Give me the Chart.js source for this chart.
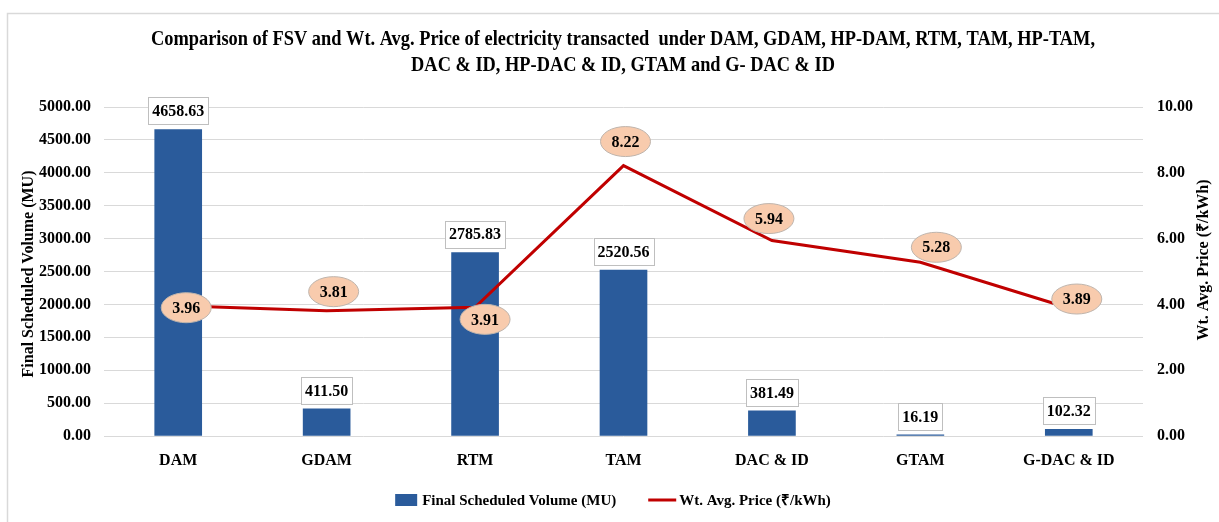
<!DOCTYPE html>
<html>
<head>
<meta charset="utf-8">
<script src="https://cdn.jsdelivr.net/npm/chart.js@4.4.1/dist/chart.umd.min.js"></script>
<style>
html,body{margin:0;padding:0;background:#fff;}
#wrap{position:relative;width:1219px;height:522px;}
</style>
</head>
<body>
<div id="wrap"><canvas id="c" width="1219" height="522"></canvas></div>
<script>
const categories = ["DAM", "GDAM", "RTM", "TAM", "DAC & ID", "GTAM", "G-DAC & ID"];
const volumeMU = [4658.63, 411.50, 2785.83, 2520.56, 381.49, 16.19, 102.32];
const priceKWh = [3.96, 3.81, 3.91, 8.22, 5.94, 5.28, 3.89];
const leftTicks = [0, 500, 1000, 1500, 2000, 2500, 3000, 3500, 4000, 4500, 5000];
const rightTicks = [0, 2, 4, 6, 8, 10];
const titleLines = ['Comparison of FSV and Wt. Avg. Price of electricity transacted  under DAM, GDAM, HP-DAM, RTM, TAM, HP-TAM,',
                    'DAC & ID, HP-DAC & ID, GTAM and G- DAC & ID'];
const seriesNames = ['Final Scheduled Volume (MU)', 'Wt. Avg. Price (\u20B9/kWh)'];

const FONT = "'Liberation Serif', 'Times New Roman', serif";
const BLUE = "#2A5B9B";
const RED = "#C00000";

// label offsets (style only) for the price bubbles, in px relative to each point
const bubbleOffsets = [[8, 2], [7, -19], [10, 12], [2, -24], [-3, -22], [16, -15], [8, -9]];

const decor = {
  id: 'decor',
  beforeDraw(chart) {
    const ctx = chart.ctx;
    ctx.save();
    ctx.fillStyle = '#fff';
    ctx.fillRect(0, 0, chart.width, chart.height);
    ctx.strokeStyle = '#d9d9d9';
    ctx.lineWidth = 1.5;
    ctx.beginPath();
    ctx.moveTo(7.5, chart.height + 5);
    ctx.lineTo(7.5, 13.5);
    ctx.lineTo(chart.width + 5, 13.5);
    ctx.stroke();
    ctx.restore();
  },
  afterDraw(chart) {
    const ctx = chart.ctx;
    ctx.save();
    ctx.fillStyle = '#000';
    ctx.textAlign = 'center';
    ctx.textBaseline = 'middle';

    // title (condensed serif)
    ctx.font = "bold 21px " + FONT;
    titleLines.forEach((t, i) => {
      ctx.setTransform(0.875, 0, 0, 1, 623, 40 + i * 26);
      ctx.fillText(t, 0, 0);
    });
    ctx.setTransform(1, 0, 0, 1, 0, 0);

    // axis titles
    ctx.font = "bold 16px " + FONT;
    ctx.translate(29, 274);
    ctx.rotate(-Math.PI / 2);
    ctx.fillText(seriesNames[0], 0, 0);
    ctx.setTransform(1, 0, 0, 1, 0, 0);
    ctx.translate(1204, 260);
    ctx.rotate(-Math.PI / 2);
    ctx.fillText(seriesNames[1], 0, 0);
    ctx.setTransform(1, 0, 0, 1, 0, 0);

    // legend
    ctx.font = "bold 15px " + FONT;
    ctx.textAlign = 'left';
    const boxW = 22, gapT = 5, gapItems = 32;
    const w1 = ctx.measureText(seriesNames[0]).width;
    const w2 = ctx.measureText(seriesNames[1]).width;
    const total = boxW + gapT + w1 + gapItems + 28 + 3 + w2;
    let lx = 613 - total / 2;
    const ly = 500;
    ctx.fillStyle = BLUE;
    ctx.fillRect(lx, ly - 6, boxW, 12);
    ctx.fillStyle = '#000';
    ctx.fillText(seriesNames[0], lx + boxW + gapT, ly + 1);
    lx += boxW + gapT + w1 + gapItems;
    ctx.strokeStyle = RED;
    ctx.lineWidth = 3;
    ctx.beginPath();
    ctx.moveTo(lx, ly);
    ctx.lineTo(lx + 28, ly);
    ctx.stroke();
    ctx.fillText(seriesNames[1], lx + 31, ly + 1);
    ctx.textAlign = 'center';

    // bar value boxes
    const barMeta = chart.getDatasetMeta(1);
    ctx.font = "bold 16px " + FONT;
    barMeta.data.forEach((el, i) => {
      const txt = volumeMU[i].toFixed(2);
      const w = ctx.measureText(txt).width + 8;
      const h = 27;
      const x = el.x, yb = el.y - 5;
      ctx.fillStyle = '#fff';
      ctx.fillRect(x - w / 2, yb - h, w, h);
      ctx.strokeStyle = '#bfbfbf';
      ctx.lineWidth = 1;
      ctx.strokeRect(Math.round(x - w / 2) + 0.5, Math.round(yb - h) + 0.5, Math.round(w), h);
      ctx.fillStyle = '#000';
      ctx.fillText(txt, x, yb - h / 2 + 1);
    });

    // price bubbles
    const lineMeta = chart.getDatasetMeta(0);
    lineMeta.data.forEach((el, i) => {
      const [dx, dy] = bubbleOffsets[i];
      const cx = el.x + dx, cy = el.y + dy;
      ctx.beginPath();
      ctx.ellipse(cx, cy, 25, 15, 0, 0, Math.PI * 2);
      ctx.fillStyle = '#F8CBAD';
      ctx.fill();
      ctx.strokeStyle = '#BFB5AD';
      ctx.lineWidth = 1;
      ctx.stroke();
      ctx.fillStyle = '#000';
      ctx.fillText(priceKWh[i].toFixed(2), cx, cy + 1);
    });
    ctx.restore();
  }
};

new Chart(document.getElementById('c'), {
  data: {
    labels: categories,
    datasets: [
      {
        type: 'line',
        label: seriesNames[1],
        data: priceKWh,
        yAxisID: 'y1',
        borderColor: RED,
        backgroundColor: RED,
        borderWidth: 3,
        pointRadius: 0,
        tension: 0,
        order: 0
      },
      {
        type: 'bar',
        label: seriesNames[0],
        data: volumeMU,
        yAxisID: 'y',
        backgroundColor: BLUE,
        borderWidth: 0,
        barThickness: 47,
        order: 1
      }
    ]
  },
  options: {
    responsive: false,
    animation: false,
    events: [],
    layout: { padding: { top: 107, left: 0, right: 0, bottom: 42 } },
    plugins: {
      title: { display: false },
      legend: { display: false },
      tooltip: { enabled: false }
    },
    scales: {
      x: {
        grid: { display: false, drawTicks: false },
        border: { display: false },
        ticks: { color: '#000', font: { family: FONT, size: 16, weight: 'bold' }, padding: 15, maxRotation: 0 },
        afterFit(s) { s.height = 44; }
      },
      y: {
        position: 'left',
        min: 0, max: 5000,
        afterBuildTicks(s) { s.ticks = leftTicks.map(v => ({ value: v })); },
        grid: { color: '#d9d9d9', lineWidth: 1, drawTicks: false },
        border: { display: false },
        ticks: { color: '#000', font: { family: FONT, size: 16, weight: 'bold' }, padding: 13,
                 callback: v => Number(v).toFixed(2) },
        afterFit(s) { s.width = 104; }
      },
      y1: {
        position: 'right',
        min: 0, max: 10,
        afterBuildTicks(s) { s.ticks = rightTicks.map(v => ({ value: v })); },
        grid: { display: false, drawTicks: false },
        border: { display: false },
        ticks: { color: '#000', font: { family: FONT, size: 16, weight: 'bold' }, padding: 14,
                 callback: v => Number(v).toFixed(2) },
        afterFit(s) { s.width = 1219 - 1143; }
      }
    }
  },
  plugins: [decor]
});
</script>
</body>
</html>
